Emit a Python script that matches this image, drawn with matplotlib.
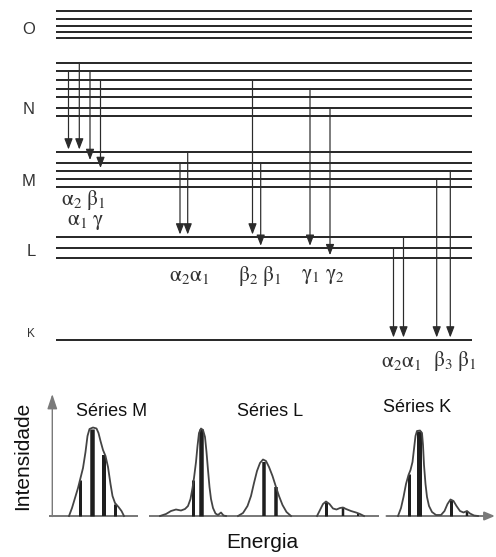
"""X-ray emission: shell level diagram (K, L, M, N, O) and the resulting spectra."""
import matplotlib
matplotlib.use("Agg")
import matplotlib.pyplot as plt

# --- shell sublevels (diagram units, y grows downward) -----------------------
O_LEVELS = [11, 19, 25.7, 32, 38]
N_LEVELS = [62.5, 71, 80, 88.5, 96.7, 107.7, 115.7]
M_LEVELS = [152, 162.5, 170.5, 178.5, 187]
L_LEVELS = [237, 248.3, 257.7]
K_LEVELS = [340]
SHELL_NAMES = ["O", "N", "M", "L", "K"]

# --- transitions: (position, upper shell, sublevel, lower shell, sublevel) ----
M_SERIES = [(68.5, "N", 1, "M", 0), (79.3, "N", 0, "M", 0),
            (90, "N", 1, "M", 1), (100.5, "N", 2, "M", 2)]
L_SERIES = [(180, "M", 1, "L", 0), (187.7, "M", 0, "L", 0),
            (252.5, "N", 2, "L", 0), (260.7, "M", 1, "L", 1),
            (310, "N", 3, "L", 1), (330, "N", 5, "L", 2)]
K_SERIES = [(393.5, "L", 1, "K", 0), (403.5, "L", 0, "K", 0),
            (436.7, "M", 3, "K", 0), (450.3, "M", 2, "K", 0)]

# --- spectra: stick lines and envelopes (energy, intensity) ------------------
M_STICK_E = [80, 92, 104, 114.5]
M_STICK_I = [36, 87, 61, 12]
M_ENV_E = [69, 72, 75, 78, 80, 83, 85.5, 87.5, 89.5, 93, 96.5, 98.5, 100.5,
           103, 105.5, 108, 110.5, 112.5, 115, 118.5, 121.5, 124]
M_ENV_I = [0, 8, 18, 28, 36, 48, 64, 80, 87, 88.5, 87.5, 83, 75,
           66, 60, 49, 32, 20, 13, 9, 5, 0]

L_STICK_E = [193.3, 201, 264, 276, 326, 343, 358]
L_STICK_I = [36, 87, 54, 29, 14, 9, 3]
L_ENV1_E = [160, 166, 171, 176, 181, 185, 188, 190.5, 192.5, 194, 196, 197.5,
            199, 201, 203, 205, 206.5, 208, 209.5, 211, 213, 215.5, 218, 221,
            223.5, 226]
L_ENV1_I = [0, 2, 5, 6.5, 5.5, 7, 10, 17, 28, 38, 54, 70,
            83, 87.5, 86, 79, 64, 46, 29, 17, 8, 2.5, 1, 3.5,
            0.5, 0]
L_ENV2_E = [238, 243, 247.5, 251, 254, 257, 260, 263, 266, 269, 272.5, 276,
            279, 282.5, 286.5, 291]
L_ENV2_I = [0, 3, 10, 20, 33, 45, 53, 56.5, 55, 49, 40, 29,
            20, 11, 4, 0]
L_ENV3_E = [317, 320, 323, 326, 329.5, 333, 336.5, 340, 343, 346, 351, 356,
            360, 364]
L_ENV3_I = [0, 6, 12, 14.5, 12, 7.5, 6.5, 8, 8.5, 7, 5, 3.5, 2, 0]

K_STICK_E = [409.3, 419, 450.7, 467]
K_STICK_I = [42, 85, 16, 4]
K_ENV_E = [398, 401, 403.5, 406, 408.5, 410.5, 412.5, 414, 415.5, 417, 420,
           422, 423, 424, 425.5, 427, 429, 432, 436, 441, 444.5, 447.5, 450.5,
           453.5, 456.5, 460, 463.5, 467, 470, 474, 478]
K_ENV_I = [0, 8, 19, 32, 41, 46, 54, 67, 80, 85, 85.5,
           83, 71, 51, 32, 19, 10, 4, 1, 1, 5, 12, 16.5,
           15, 10, 5, 3.5, 5, 2.5, 0.5, 0]

SERIES_NAMES = ["Séries M", "Séries L", "Séries K"]

# --- layout / style ------------------------------------------------------------
W, H = 496, 557
X0, X1 = 56, 472            # extent of the level lines
BASE = 516                  # spectrum baseline
DARK = "#2b2b2b"
GREY = "#7a7a7a"
PX = 0.72                   # points per pixel at dpi 100
LEVELS = dict(zip(SHELL_NAMES, [O_LEVELS, N_LEVELS, M_LEVELS, L_LEVELS, K_LEVELS]))

plt.rcParams["font.family"] = ["Liberation Sans", "DejaVu Sans"]
plt.rcParams["mathtext.fontset"] = "stix"

fig = plt.figure(figsize=(W / 100, H / 100), dpi=100)
ax = fig.add_axes([0, 0, 1, 1])
ax.set_xlim(0, W)
ax.set_ylim(H, 0)
ax.axis("off")

# level lines + shell letters
for name, ys in LEVELS.items():
    ax.hlines(ys, X0, X1, color=DARK, lw=2 * PX, zorder=2)
label_pos = {"O": (28.5, 29.5), "N": (29, 109), "M": (29, 181.5),
             "L": (31, 252), "K": (31, 334)}
for name, (x, y) in label_pos.items():
    ax.text(x, y, name, ha="center", va="center", color="#333333",
            fontsize=8.5 if name == "K" else 12)

# transition arrows
for series in (M_SERIES, L_SERIES, K_SERIES):
    for x, up, i, low, j in series:
        y0 = LEVELS[up][i]
        y1 = LEVELS[low][j] - 2.5
        ax.annotate("", xy=(x, y1), xytext=(x, y0),
                    arrowprops=dict(arrowstyle="-|>,head_length=0.65,head_width=0.25",
                                    color=DARK, lw=1.2 * PX, mutation_scale=10,
                                    shrinkA=0, shrinkB=0), zorder=3)

greek = dict(ha="center", va="center", fontsize=15.5, color="#333333")
ax.text(83, 200, r"$\mathrm{\alpha_2\ \beta_1}$", **greek)
ax.text(86, 221, r"$\mathrm{\alpha_1\ \gamma}$", **greek)
ax.text(189, 276, r"$\mathrm{\alpha_2\alpha_1}$", **greek)
ax.text(260, 276, r"$\mathrm{\beta_2\ \beta_1}$", **greek)
ax.text(322.5, 276, r"$\mathrm{\gamma_1\ \gamma_2}$", **greek)
ax.text(401.5, 361, r"$\mathrm{\alpha_2\alpha_1}$", **greek)
ax.text(455, 361, r"$\mathrm{\beta_3\ \beta_1}$", **greek)

# --- spectrum ----------------------------------------------------------------
ax.annotate("", xy=(52.3, 394), xytext=(52.3, BASE + 0.5),
            arrowprops=dict(arrowstyle="-|>,head_length=0.9,head_width=0.3",
                            color=GREY, lw=1.4 * PX, mutation_scale=10,
                            shrinkA=0, shrinkB=0))
ax.plot([50, 137], [BASE, BASE], color=GREY, lw=2 * PX)
ax.plot([150, 378], [BASE, BASE], color=GREY, lw=2 * PX)
ax.annotate("", xy=(495, BASE), xytext=(386.5, BASE),
            arrowprops=dict(arrowstyle="-|>,head_length=0.6,head_width=0.25",
                            color=GREY, lw=2 * PX, mutation_scale=10,
                            shrinkA=0, shrinkB=0))

stick_w = [[3, 4.5, 4, 3], [3, 4.5, 3.5, 3.5, 3, 2.5, 2], [3, 5, 3, 2.5]]
for es, ins, ws in zip([M_STICK_E, L_STICK_E, K_STICK_E],
                       [M_STICK_I, L_STICK_I, K_STICK_I], stick_w):
    for e, i, w in zip(es, ins, ws):
        ax.plot([e, e], [BASE, BASE - i], color="#1e1e1e", lw=w * PX,
                solid_capstyle="butt", zorder=3)

for es, ins in [(M_ENV_E, M_ENV_I), (L_ENV1_E, L_ENV1_I), (L_ENV2_E, L_ENV2_I),
                (L_ENV3_E, L_ENV3_I), (K_ENV_E, K_ENV_I)]:
    ax.plot(es, [BASE - i for i in ins], color="#444444", lw=1.8 * PX,
            solid_joinstyle="round", zorder=4)

for name, (x, y) in zip(SERIES_NAMES, [(112, 412), (270, 412), (417.5, 407)]):
    ax.text(x, y, name, ha="center", va="center", fontsize=13, color="#111111")
ax.text(23, 456, "Intensidade", rotation=90, ha="center", va="center",
        fontsize=15, color="#111111")
ax.text(262.5, 543, "Energia", ha="center", va="center", fontsize=15,
        color="#111111")

fig.savefig("out.png", dpi=100)
